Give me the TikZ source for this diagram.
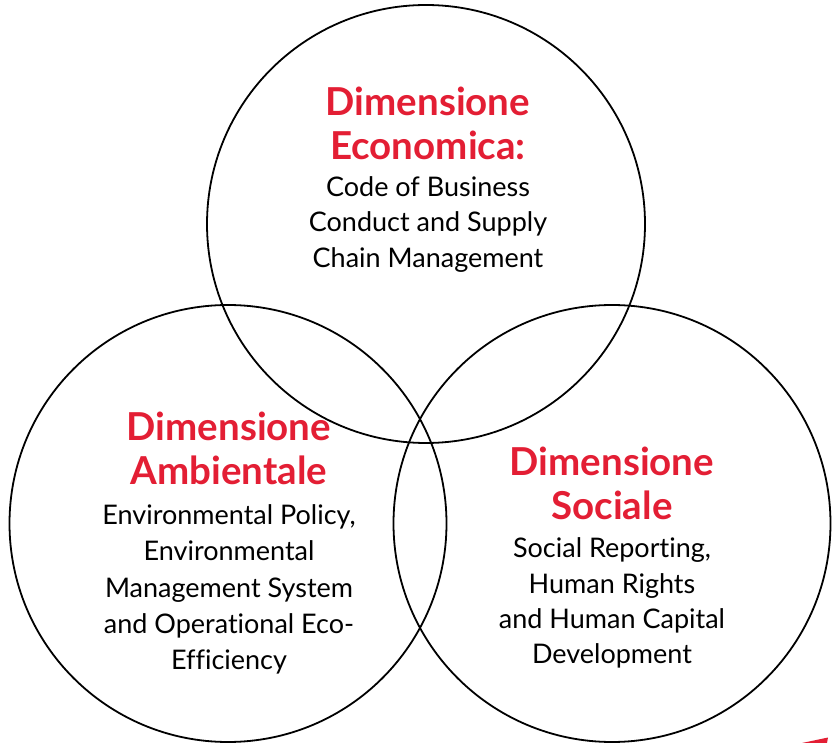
\documentclass[tikz,border=0pt]{standalone}
\usepackage{fontspec}
\setmainfont{Lato}[Ligatures={NoCommon}]
\definecolor{dimred}{RGB}{227,30,52}
\tikzset{
  ring/.style={draw=black, line width=1.8pt},
  ttl/.style={anchor=base, inner sep=0pt, text=dimred, font=\fontsize{38.5}{44}\selectfont\bfseries},
  bdy/.style={anchor=base, inner sep=0pt, text=black, font=\fontsize{27}{32}\selectfont},
}
\begin{document}
\begin{tikzpicture}[x=1pt,y=-1pt]
\useasboundingbox (0,0) rectangle (839,743);
\draw[ring] (426,224) circle (219);
\draw[ring] (228,523.5) circle (218.5);
\draw[ring] (612,523.5) circle (218.5);
% top
\node[ttl] (e1) at (428,116) {Dimensione};
\node[ttl] (e2) at (428,160) {Economica:};
\node[bdy] (e3) at (428,197) {Code of Business};
\node[bdy] (e4) at (428,232) {Conduct and Supply};
\node[bdy] (e5) at (428,268) {Chain Management};
% left
\node[ttl] (a1) at (229,441) {Dimensione};
\node[ttl] (a2) at (229,485) {Ambientale};
\node[bdy] (a3) at (229,525) {Environmental Policy,};
\node[bdy] (a4) at (229,561) {Environmental};
\node[bdy] (a5) at (229,597) {Management System};
\node[bdy] (a6) at (229,633) {and Operational Eco-};
\node[bdy] (a7) at (229,669) {Efficiency};
% right
\node[ttl] (s1) at (612,476) {Dimensione};
\node[ttl] (s2) at (612,520) {Sociale};
\node[bdy] (s3) at (612,558) {Social Reporting,};
\node[bdy] (s4) at (612,594) {Human Rights};
\node[bdy] (s5) at (612,628) {and Human Capital};
\node[bdy] (s6) at (612,663) {Development};
% red corner sliver
\fill[dimred] (802,743) -- (828,737.5) -- (827,743) -- cycle;
\end{tikzpicture}
\end{document}
